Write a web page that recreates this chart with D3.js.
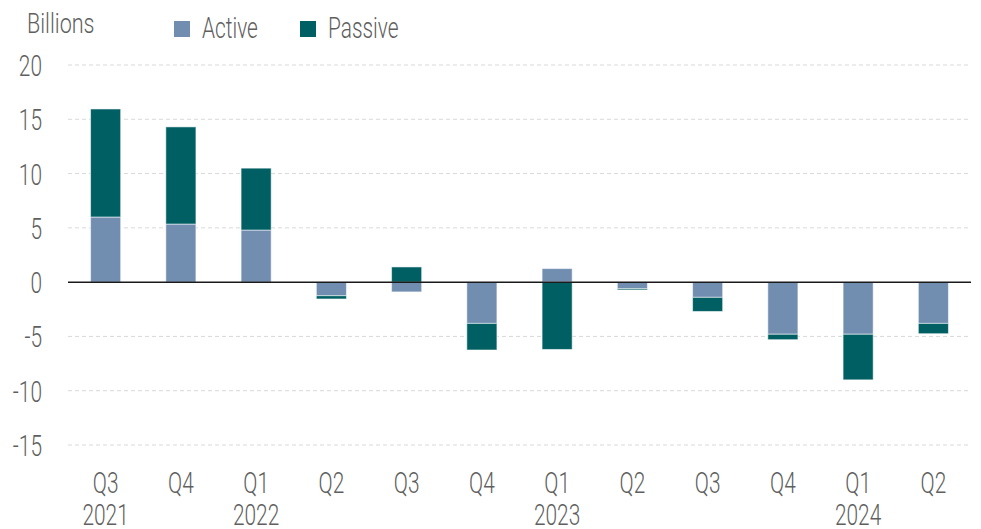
<!DOCTYPE html>
<html>
<head>
<meta charset="utf-8">
<script src="https://cdn.jsdelivr.net/npm/d3@7"></script>
<style>
  body { margin: 0; background: #fff; }
  text { font-family: Roboto, "Liberation Sans", sans-serif; font-weight: 300; fill: #5f5f5f; }
</style>
</head>
<body>
<div id="chart"></div>
<script>
// chart data
var quarters = ["Q3", "Q4", "Q1", "Q2", "Q3", "Q4", "Q1", "Q2", "Q3", "Q4", "Q1", "Q2"];
var years = ["2021", "", "2022", "", "", "", "2023", "", "", "", "2024", ""];
var active = [6.0, 5.35, 4.8, -1.25, -0.9, -3.8, 1.25, -0.6, -1.4, -4.8, -4.8, -3.8];
var passive = [9.95, 8.95, 5.7, -0.3, 1.4, -2.45, -6.2, -0.12, -1.3, -0.5, -4.2, -0.95];
var yTicks = [20, 15, 10, 5, 0, -5, -10, -15];

var seriesNames = ["Active", "Passive"];
var colors = { Active: "#718eb1", Passive: "#005f62" };

var svgWidth = 981;
var svgHeight = 529;
var margin = { top: 65, right: 10, bottom: 84, left: 68 };
var width = svgWidth - margin.left - margin.right;
var height = svgHeight - margin.top - margin.bottom;

// squeeze text horizontally to get the condensed look of the original font
function condense(sel, s) {
  s = s || 0.72;
  sel.each(function() {
    var t = d3.select(this);
    var x = +t.attr("x") || 0;
    var y = +t.attr("y") || 0;
    t.attr("x", 0).attr("y", 0)
      .attr("transform", `translate(${x},${y}) scale(${s},1)`);
  });
}

var svg = d3.select("#chart")
  .append("svg")
  .attr("width", svgWidth)
  .attr("height", svgHeight);

var chartGroup = svg.append("g")
  .attr("transform", `translate(${margin.left}, ${margin.top})`);

// rows for the stack
var rows = quarters.map(function(q, i) {
  return { key: i, Active: active[i], Passive: passive[i] };
});

var stacked = d3.stack()
  .keys(seriesNames)
  .offset(d3.stackOffsetDiverging)(rows);

var xScale = d3.scaleBand()
  .domain(d3.range(quarters.length))
  .range([0, width])
  .paddingInner(0.6)
  .paddingOuter(0.3);

var yScale = d3.scaleLinear()
  .domain([-15, 20])
  .range([380, 0]);

// gridlines
chartGroup.append("g")
  .selectAll("line")
  .data(yTicks.filter(d => d !== 0))
  .enter()
  .append("line")
  .attr("x1", 0)
  .attr("x2", width)
  .attr("y1", d => yScale(d))
  .attr("y2", d => yScale(d))
  .attr("stroke", "#d9d9d9")
  .attr("stroke-width", 1)
  .attr("stroke-dasharray", "4,3");

// y axis labels (plain hyphen for negatives, like the original)
var leftAxis = d3.axisLeft(yScale)
  .tickValues(yTicks)
  .tickFormat(d => String(d))
  .tickSize(0)
  .tickPadding(26);
var yAxis = chartGroup.append("g").call(leftAxis);
yAxis.select(".domain").remove();
yAxis.selectAll("text")
  .style("font-size", "29px")
  .style("font-family", null)
  .attr("fill", null)
  .attr("dy", "0.36em")
  .call(condense);

// bars
chartGroup.append("g")
  .selectAll("g")
  .data(stacked)
  .enter()
  .append("g")
  .attr("fill", d => colors[d.key])
  .selectAll("rect")
  .data(d => d)
  .enter()
  .append("rect")
  .attr("x", (d, i) => xScale(i))
  .attr("width", xScale.bandwidth())
  .attr("y", d => yScale(Math.max(d[0], d[1])))
  .attr("height", d => Math.abs(yScale(d[0]) - yScale(d[1])))
  .attr("stroke", "#ffffff")
  .attr("stroke-opacity", 0.55)
  .attr("stroke-width", 1);

// zero line
chartGroup.append("line")
  .attr("x1", 0)
  .attr("x2", width)
  .attr("y1", yScale(0))
  .attr("y2", yScale(0))
  .attr("stroke", "#1a1a1a")
  .attr("stroke-width", 1.5);

// x axis labels (quarter + year)
var xLabels = chartGroup.append("g");
xLabels.selectAll(".q")
  .data(quarters)
  .enter()
  .append("text")
  .attr("class", "q")
  .attr("x", (d, i) => xScale(i) + xScale.bandwidth() / 2)
  .attr("y", 428)
  .attr("text-anchor", "middle")
  .style("font-size", "29px")
  .text(d => d)
  .call(condense);

xLabels.selectAll(".yr")
  .data(years)
  .enter()
  .append("text")
  .attr("class", "yr")
  .attr("x", (d, i) => xScale(i) + xScale.bandwidth() / 2)
  .attr("y", 460)
  .attr("text-anchor", "middle")
  .style("font-size", "29px")
  .text(d => d)
  .call(condense);

// unit label
svg.append("text")
  .attr("x", 27)
  .attr("y", 33)
  .style("font-size", "27px")
  .text("Billions")
  .call(condense, 0.8);

// legend
var legend = svg.append("g");
var legendX = [174, 300];
seriesNames.forEach(function(name, i) {
  legend.append("rect")
    .attr("x", legendX[i])
    .attr("y", 21)
    .attr("width", 16)
    .attr("height", 16)
    .attr("fill", colors[name]);
  legend.append("text")
    .attr("x", legendX[i] + 28)
    .attr("y", 38)
    .style("font-size", "29px")
    .text(name)
    .call(condense);
});
</script>
</body>
</html>
